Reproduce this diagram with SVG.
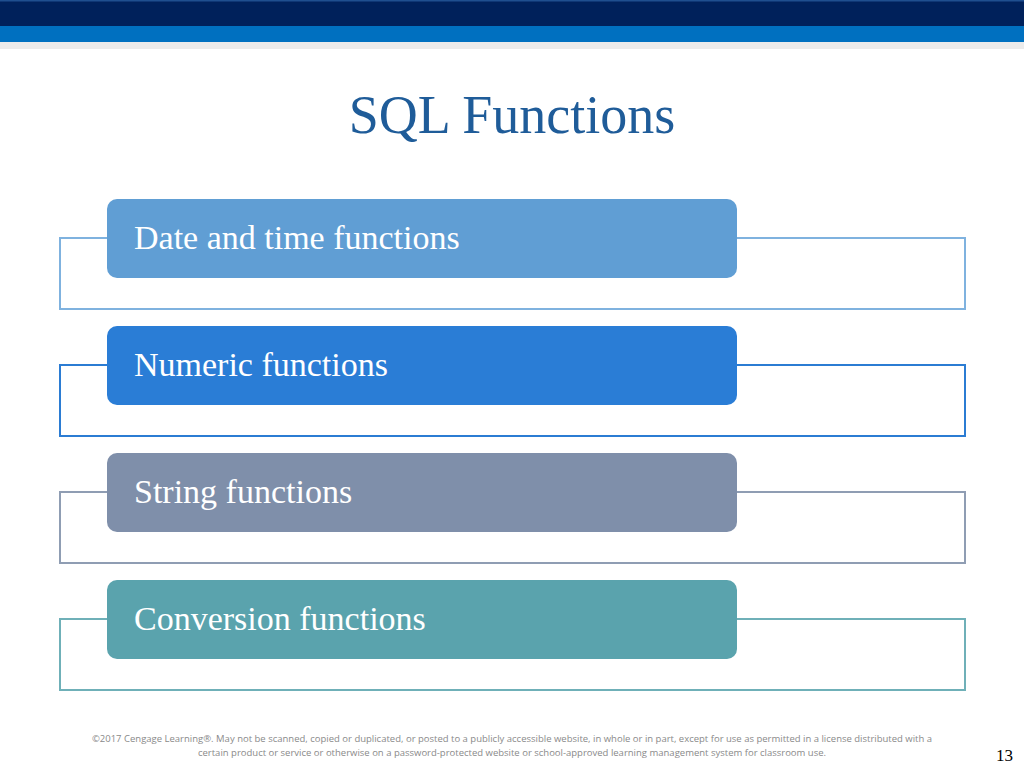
<svg xmlns="http://www.w3.org/2000/svg" width="1024" height="768" viewBox="0 0 1024 768">
<style>
.o{fill:none;stroke-width:2}
.t{font-family:"Liberation Serif",serif;font-size:34px;fill:#fff}
.f{font-family:"Open Sans","Liberation Sans",sans-serif;font-size:9.5px;fill:#8a8a8a;text-anchor:middle}
</style>
<rect width="1024" height="768" fill="#fff"/>
<rect x="0" y="0" width="1024" height="26" fill="#00215b"/>
<rect x="0" y="0" width="1024" height="1.5" fill="#1f4f8f"/>
<rect x="0" y="26" width="1024" height="16" fill="#0070c0"/>
<rect x="0" y="42" width="1024" height="7" fill="#ebebeb"/>
<text x="512" y="133" font-family="Liberation Serif,serif" font-size="54" fill="#1f5c99" text-anchor="middle">SQL Functions</text>
<g id="connectors">
<rect class="o" x="60" y="238" width="905" height="71" stroke="#7fb2df"/>
<rect class="o" x="60" y="365" width="905" height="71" stroke="#2b7cd3"/>
<rect class="o" x="60" y="492" width="905" height="71" stroke="#8f9db3"/>
<rect class="o" x="60" y="619" width="905" height="71" stroke="#6fb0b8"/>
</g>
<g id="n1"><rect x="107" y="199" width="630" height="79" rx="10" fill="#609ed4"/><text class="t" x="134" y="249">Date and time functions</text></g>
<g id="n2"><rect x="107" y="326" width="630" height="79" rx="10" fill="#2a7dd6"/><text class="t" x="134" y="376">Numeric functions</text></g>
<g id="n3"><rect x="107" y="453" width="630" height="79" rx="10" fill="#7f8faa"/><text class="t" x="134" y="503">String functions</text></g>
<g id="n4"><rect x="107" y="580" width="630" height="79" rx="10" fill="#5aa3ad"/><text class="t" x="134" y="630">Conversion functions</text></g>
<text class="f" x="512" y="742">©2017 Cengage Learning®. May not be scanned, copied or duplicated, or posted to a publicly accessible website, in whole or in part, except for use as permitted in a license distributed with a</text>
<text class="f" x="512" y="756">certain product or service or otherwise on a password-protected website or school-approved learning management system for classroom use.</text>
<text x="1013" y="761" font-family="Liberation Serif,serif" font-size="17" fill="#000" text-anchor="end">13</text>
</svg>
